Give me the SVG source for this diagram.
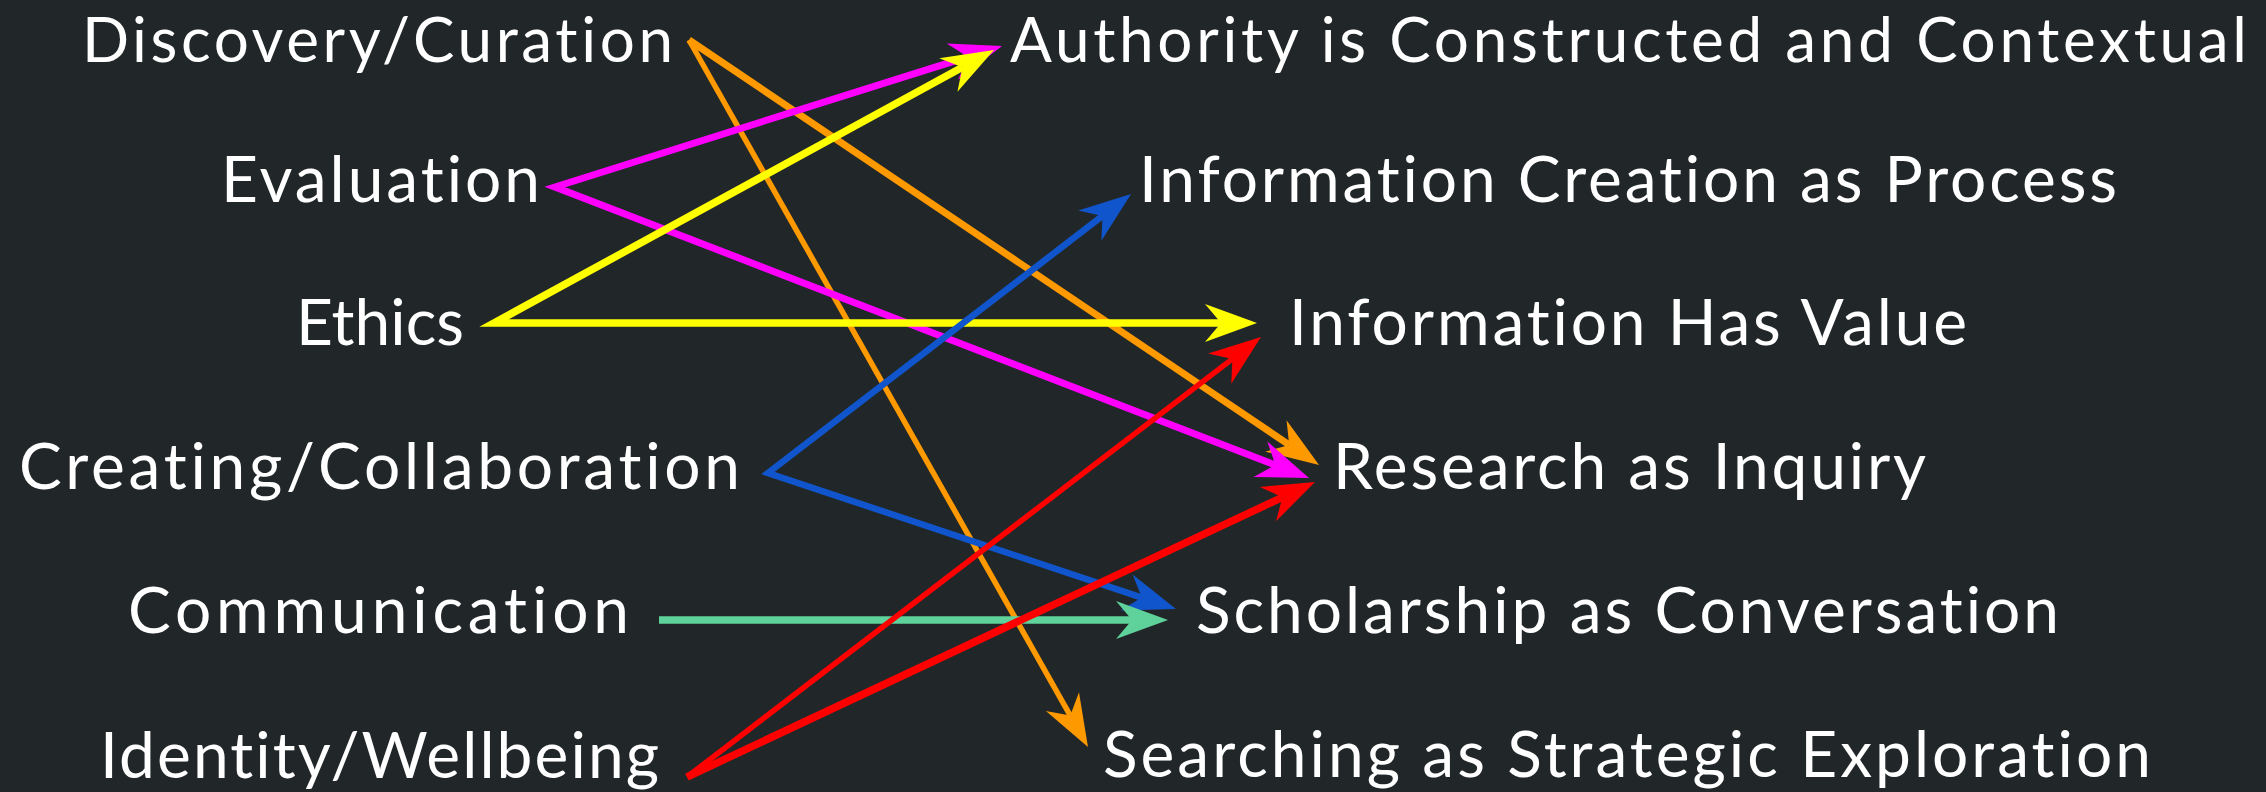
<svg xmlns="http://www.w3.org/2000/svg" width="2266" height="792" viewBox="0 0 2266 792">
<defs>
<style>
.lbl{font-family:Lato,"Open Sans","Liberation Sans",sans-serif;font-size:64px;fill:#ffffff;font-variant-ligatures:none;}
.top{font-size:62px;}
.ln{fill:none;stroke-linejoin:miter;stroke-miterlimit:14;stroke-linecap:butt;}
</style>
<marker id="mOrange" markerUnits="userSpaceOnUse" orient="auto-start-reverse" overflow="visible" markerWidth="60" markerHeight="60"><path d="M36,0 L-16,-19 L0,0 L-16,19 z" fill="#FF9900"/></marker>
<marker id="mMagenta" markerUnits="userSpaceOnUse" orient="auto-start-reverse" overflow="visible" markerWidth="60" markerHeight="60"><path d="M36,0 L-16,-19 L0,0 L-16,19 z" fill="#FF00FF"/></marker>
<marker id="mYellow" markerUnits="userSpaceOnUse" orient="auto-start-reverse" overflow="visible" markerWidth="60" markerHeight="60"><path d="M36,0 L-16,-19 L0,0 L-16,19 z" fill="#FFFF00"/></marker>
<marker id="mBlue" markerUnits="userSpaceOnUse" orient="auto-start-reverse" overflow="visible" markerWidth="60" markerHeight="60"><path d="M36,0 L-16,-19 L0,0 L-16,19 z" fill="#1155CC"/></marker>
<marker id="mGreen" markerUnits="userSpaceOnUse" orient="auto-start-reverse" overflow="visible" markerWidth="60" markerHeight="60"><path d="M36,0 L-16,-19 L0,0 L-16,19 z" fill="#5ED29A"/></marker>
<marker id="mRed" markerUnits="userSpaceOnUse" orient="auto-start-reverse" overflow="visible" markerWidth="60" markerHeight="60"><path d="M36,0 L-16,-19 L0,0 L-16,19 z" fill="#FF0000"/></marker>
</defs>
<rect x="0" y="0" width="2266" height="792" fill="#212729"/>

<g id="connectors">
  <line class="ln" x1="689" y1="40" x2="1289.2" y2="444.9" stroke="#FF9900" stroke-width="7" marker-end="url(#mOrange)"/>
  <line class="ln" x1="689" y1="40" x2="1070.3" y2="715.6" stroke="#FF9900" stroke-width="5.5" marker-end="url(#mOrange)"/>
  <polyline class="ln" points="967.7,56.8 555,187 1275.4,465" stroke="#FF00FF" stroke-width="7" marker-start="url(#mMagenta)" marker-end="url(#mMagenta)"/>
  <polyline class="ln" points="962.4,67.3 494,323 1221,323" stroke="#FFFF00" stroke-width="7.5" marker-start="url(#mYellow)" marker-end="url(#mYellow)"/>
  <polyline class="ln" points="1102.5,215.9 768,473 1141.8,597.6" stroke="#1155CC" stroke-width="6.5" marker-start="url(#mBlue)" marker-end="url(#mBlue)"/>
  <line class="ln" x1="659" y1="620" x2="1132" y2="620" stroke="#5ED29A" stroke-width="7.5" marker-end="url(#mGreen)"/>
  <line class="ln" x1="687" y1="777" x2="1232.4" y2="358.9" stroke="#FF0000" stroke-width="5.5" marker-end="url(#mRed)"/>
  <line class="ln" x1="687" y1="777" x2="1282.4" y2="497.3" stroke="#FF0000" stroke-width="7.5" marker-end="url(#mRed)"/>
</g>

<g id="discovery"><text class="lbl top" x="82" y="62" textLength="591">Discovery/Curation</text></g>
<g id="evaluation"><text class="lbl" x="221" y="202" textLength="319">Evaluation</text></g>
<g id="ethics"><text class="lbl" x="296" y="345" textLength="168">Ethics</text></g>
<g id="creating"><text class="lbl" x="19" y="489" textLength="721">Creating/Collaboration</text></g>
<g id="communication"><text class="lbl" x="128" y="633" textLength="501">Communication</text></g>
<g id="identity"><text class="lbl" x="100" y="778" textLength="559">Identity/Wellbeing</text></g>

<g id="authority"><text class="lbl top" x="1010" y="62" textLength="1237">Authority is Constructed and Contextual</text></g>
<g id="creation"><text class="lbl" x="1139" y="202" textLength="978">Information Creation as Process</text></g>
<g id="value"><text class="lbl" x="1289" y="345" textLength="678">Information Has Value</text></g>
<g id="research"><text class="lbl" x="1333" y="489" textLength="593">Research as Inquiry</text></g>
<g id="scholarship"><text class="lbl" x="1196" y="633" textLength="863">Scholarship as Conversation</text></g>
<g id="searching"><text class="lbl" x="1103" y="777" textLength="1048">Searching as Strategic Exploration</text></g>
</svg>
